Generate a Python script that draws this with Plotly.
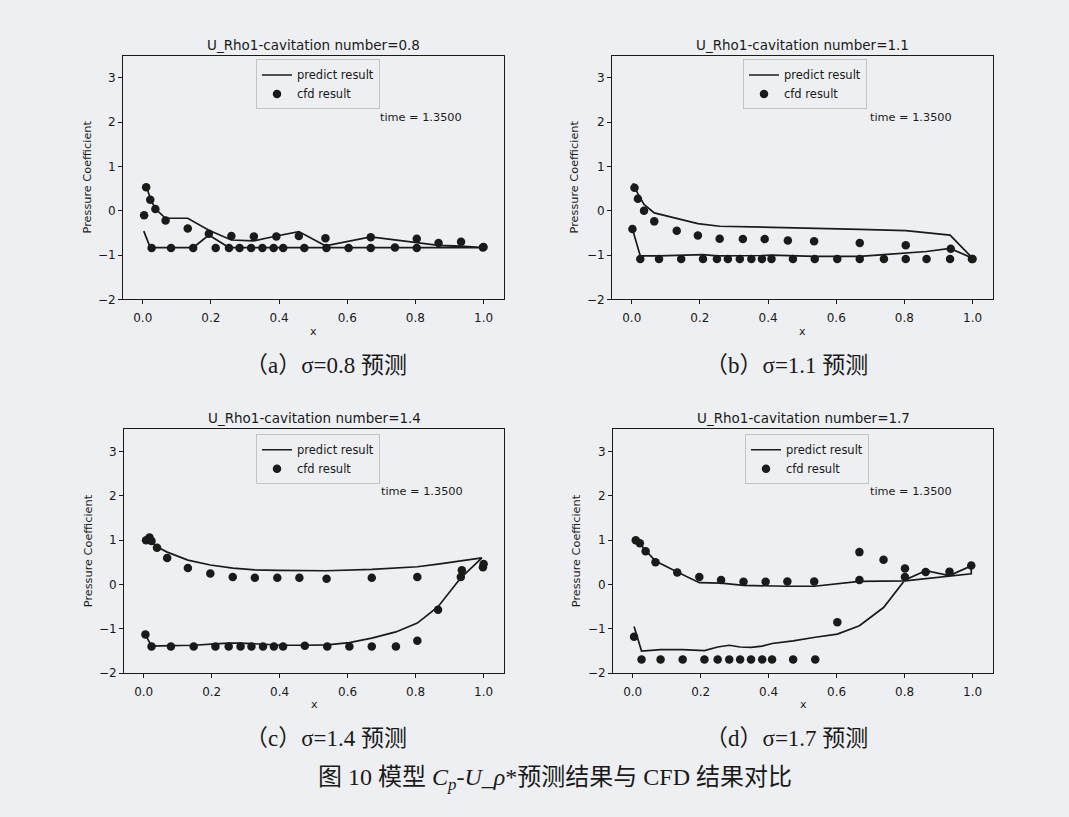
import plotly.graph_objects as go

# ---------------- data ----------------
titles = ["U_Rho1-cavitation number=0.8", "U_Rho1-cavitation number=1.1",
          "U_Rho1-cavitation number=1.4", "U_Rho1-cavitation number=1.7"]
captions = ["（a）σ=0.8 预测", "（b）σ=1.1 预测", "（c）σ=1.4 预测", "（d）σ=1.7 预测"]
x_ticks = [0.0, 0.2, 0.4, 0.6, 0.8, 1.0]
y_ticks = [-2, -1, 0, 1, 2, 3]

# (a) sigma = 0.8
cfd_x_a = [0.004, 0.010, 0.022, 0.037, 0.067, 0.132, 0.194, 0.260, 0.326, 0.392, 0.458, 0.536, 0.669, 0.804, 0.868, 0.934, 1.000,
           0.026, 0.083, 0.148, 0.214, 0.253, 0.284, 0.318, 0.351, 0.384, 0.412, 0.474, 0.539, 0.604, 0.669, 0.740, 0.804, 0.998]
cfd_y_a = [-0.10, 0.53, 0.25, 0.04, -0.22, -0.40, -0.52, -0.57, -0.58, -0.58, -0.57, -0.62, -0.60, -0.63, -0.73, -0.70, -0.82,
           -0.84, -0.84, -0.84, -0.84, -0.84, -0.84, -0.84, -0.84, -0.84, -0.84, -0.84, -0.84, -0.84, -0.84, -0.83, -0.84, -0.83]
pred_lx_a = [0.003, 0.022, 0.083, 0.148, 0.194, 0.253, 0.318, 0.384, 0.474, 0.539, 0.604, 0.669, 0.740, 0.804, 0.868, 0.934, 1.000]
pred_ly_a = [-0.46, -0.83, -0.83, -0.83, -0.55, -0.83, -0.83, -0.83, -0.83, -0.83, -0.83, -0.83, -0.83, -0.83, -0.83, -0.83, -0.83]
pred_ux_a = [1.000, 0.934, 0.868, 0.804, 0.669, 0.536, 0.458, 0.392, 0.326, 0.260, 0.194, 0.132, 0.067, 0.037, 0.022, 0.010]
pred_uy_a = [-0.83, -0.80, -0.78, -0.72, -0.59, -0.79, -0.47, -0.57, -0.68, -0.66, -0.44, -0.17, -0.17, 0.04, 0.28, 0.57]

# (b) sigma = 1.1
cfd_x_b = [0.002, 0.008, 0.018, 0.036, 0.066, 0.132, 0.194, 0.258, 0.326, 0.390, 0.458, 0.535, 0.669, 0.804, 0.936, 1.000,
           0.025, 0.080, 0.145, 0.209, 0.250, 0.282, 0.317, 0.351, 0.382, 0.410, 0.473, 0.537, 0.603, 0.669, 0.740, 0.804, 0.865, 0.934, 0.998]
cfd_y_b = [-0.41, 0.52, 0.27, 0.00, -0.24, -0.45, -0.56, -0.63, -0.64, -0.64, -0.67, -0.69, -0.73, -0.78, -0.86, -1.09,
           -1.09, -1.09, -1.09, -1.09, -1.09, -1.09, -1.09, -1.09, -1.09, -1.09, -1.09, -1.09, -1.09, -1.09, -1.09, -1.09, -1.09, -1.09, -1.09]
pred_lx_b = [0.002, 0.025, 0.080, 0.145, 0.209, 0.250, 0.317, 0.382, 0.410, 0.473, 0.537, 0.603, 0.669, 0.740, 0.804, 0.865, 0.934, 1.000]
pred_ly_b = [-0.41, -1.02, -1.02, -1.01, -0.99, -1.02, -1.02, -1.01, -1.00, -1.02, -1.03, -1.03, -1.03, -0.99, -0.96, -0.92, -0.85, -1.07]
pred_ux_b = [1.000, 0.934, 0.865, 0.804, 0.669, 0.537, 0.458, 0.390, 0.326, 0.258, 0.194, 0.132, 0.066, 0.036, 0.018, 0.004]
pred_uy_b = [-1.07, -0.55, -0.49, -0.45, -0.42, -0.40, -0.39, -0.38, -0.37, -0.35, -0.29, -0.18, -0.05, 0.14, 0.38, 0.62]

# (c) sigma = 1.4
cfd_x_c = [0.007, 0.017, 0.023, 0.039, 0.069, 0.130, 0.196, 0.262, 0.327, 0.393, 0.458, 0.538, 0.671, 0.805, 0.936, 1.000,
           0.005, 0.023, 0.080, 0.147, 0.211, 0.250, 0.285, 0.317, 0.351, 0.383, 0.410, 0.474, 0.540, 0.605, 0.671, 0.742, 0.805, 0.866, 0.933, 0.998]
cfd_y_c = [1.00, 1.06, 0.98, 0.83, 0.60, 0.37, 0.25, 0.17, 0.15, 0.15, 0.15, 0.13, 0.15, 0.17, 0.32, 0.46,
           -1.13, -1.40, -1.40, -1.40, -1.40, -1.40, -1.40, -1.40, -1.40, -1.40, -1.40, -1.38, -1.40, -1.40, -1.40, -1.40, -1.27, -0.57, 0.17, 0.39]
pred_lx_c = [0.005, 0.023, 0.080, 0.147, 0.211, 0.250, 0.285, 0.317, 0.351, 0.383, 0.410, 0.474, 0.540, 0.605, 0.671, 0.742, 0.805, 0.866, 0.933, 0.995]
pred_ly_c = [-1.13, -1.39, -1.38, -1.37, -1.34, -1.32, -1.32, -1.33, -1.35, -1.36, -1.37, -1.37, -1.36, -1.31, -1.21, -1.07, -0.87, -0.50, 0.15, 0.60]
pred_ux_c = [0.995, 0.936, 0.866, 0.805, 0.671, 0.538, 0.458, 0.393, 0.327, 0.262, 0.196, 0.130, 0.069, 0.039, 0.023, 0.010]
pred_uy_c = [0.60, 0.53, 0.46, 0.40, 0.34, 0.31, 0.31, 0.32, 0.33, 0.37, 0.44, 0.55, 0.73, 0.85, 0.97, 1.08]

# (d) sigma = 1.7
cfd_x_d = [0.009, 0.021, 0.038, 0.067, 0.131, 0.196, 0.260, 0.326, 0.391, 0.455, 0.534, 0.667, 0.667, 0.738, 0.801, 0.801, 0.862, 0.932, 0.996, 0.004, 0.602,
           0.026, 0.082, 0.147, 0.211, 0.250, 0.284, 0.316, 0.348, 0.381, 0.410, 0.472, 0.537]
cfd_y_d = [1.00, 0.93, 0.75, 0.50, 0.27, 0.17, 0.10, 0.06, 0.06, 0.07, 0.07, 0.10, 0.73, 0.56, 0.36, 0.17, 0.28, 0.29, 0.43, -1.18, -0.85,
           -1.69, -1.69, -1.69, -1.69, -1.69, -1.69, -1.69, -1.69, -1.69, -1.69, -1.69, -1.69]
pred_lx_d = [0.004, 0.026, 0.082, 0.147, 0.211, 0.250, 0.284, 0.316, 0.348, 0.381, 0.410, 0.472, 0.537, 0.602, 0.667, 0.738, 0.801, 0.862, 0.932, 0.996]
pred_ly_d = [-0.95, -1.50, -1.47, -1.47, -1.49, -1.41, -1.37, -1.41, -1.42, -1.39, -1.33, -1.27, -1.19, -1.12, -0.93, -0.52, 0.10, 0.31, 0.20, 0.42]
pred_ux_d = [0.996, 0.932, 0.862, 0.801, 0.667, 0.534, 0.455, 0.391, 0.326, 0.260, 0.196, 0.131, 0.067, 0.038, 0.021, 0.006]
pred_uy_d = [0.24, 0.19, 0.12, 0.08, 0.07, -0.04, -0.04, -0.03, -0.02, 0.03, 0.04, 0.28, 0.53, 0.77, 0.92, 1.05]

cases = [
    (cfd_x_a, cfd_y_a, pred_lx_a + pred_ux_a, pred_ly_a + pred_uy_a),
    (cfd_x_b, cfd_y_b, pred_lx_b + pred_ux_b, pred_ly_b + pred_uy_b),
    (cfd_x_c, cfd_y_c, pred_lx_c + pred_ux_c, pred_ly_c + pred_uy_c),
    (cfd_x_d, cfd_y_d, pred_lx_d + pred_ux_d, pred_ly_d + pred_uy_d),
]

# ---------------- layout geometry (pixels of a 1069 x 817 page) ----------------
W, H = 1069, 817
boxes = [(123, 504, 56, 302), (612, 993, 56, 302), (124, 504, 433, 679), (613, 993, 433, 679)]
legend_pos = [(256, 60), (743, 60), (256, 438), (745, 438)]
time_pos = [(421, 119), (911, 119), (422, 496), (911, 496)]
ylab_x = [87, 574, 88, 576]
cap_pos = [(326, 369), (786, 369), (326, 745), (786, 745)]

BG = "#edeff2"
INK = "#1a1a1a"
SANS = "DejaVu Sans"
SERIF = "Liberation Serif, Noto Sans CJK SC"

fig = go.Figure()
annotations = []
layout = dict(width=W, height=H, margin=dict(l=0, r=0, t=0, b=0),
              paper_bgcolor=BG, plot_bgcolor=BG, showlegend=True,
              font=dict(family=SANS, color=INK))

for i, (cx, cy, px, py) in enumerate(cases):
    n = "" if i == 0 else str(i + 1)
    leg = "legend" + n
    fig.add_trace(go.Scatter(x=px, y=py, mode="lines", name="predict result",
                             line=dict(color=INK, width=1.7), xaxis="x" + n, yaxis="y" + n,
                             legend=leg))
    fig.add_trace(go.Scatter(x=cx, y=cy, mode="markers", name="cfd result",
                             marker=dict(color=INK, size=8.5), xaxis="x" + n, yaxis="y" + n,
                             legend=leg))
    x0, x1, y0, y1 = boxes[i]
    common = dict(showline=True, mirror=True, linecolor=INK, linewidth=1, showgrid=False,
                  zeroline=False, ticks="outside", ticklen=4, tickcolor=INK, tickwidth=1,
                  tickfont=dict(family=SANS, size=12, color=INK))
    layout["xaxis" + n] = dict(domain=[x0 / W, x1 / W], range=[-0.058, 1.06], anchor="y" + n,
                               tickvals=x_ticks, ticktext=[f"{v:.1f}" for v in x_ticks],
                               ticklabelstandoff=3, **common)
    layout["yaxis" + n] = dict(domain=[1 - y1 / H, 1 - y0 / H], range=[-2, 3.5], anchor="x" + n,
                               tickvals=y_ticks, **common)
    lx, ly = legend_pos[i]
    layout[leg] = dict(x=lx / W, y=1 - ly / H, xanchor="left", yanchor="top",
                       bgcolor=BG, bordercolor="#c4c4c4", borderwidth=1,
                       font=dict(family=SANS, size=11.5, color=INK), tracegroupgap=0,
                       itemwidth=30)
    xc = (x0 + x1) / 2
    annotations.append(dict(text=titles[i], x=xc / W, y=1 - (y0 - 11) / H, xref="paper", yref="paper",
                            showarrow=False, font=dict(family=SANS, size=13.5, color=INK),
                            xanchor="center", yanchor="middle"))
    tx, ty = time_pos[i]
    annotations.append(dict(text="time = 1.3500", x=tx / W, y=1 - ty / H, xref="paper", yref="paper",
                            showarrow=False, font=dict(family=SANS, size=11.3, color=INK),
                            xanchor="center", yanchor="middle"))
    annotations.append(dict(text="x", x=xc / W, y=1 - (y1 + 32) / H, xref="paper", yref="paper",
                            showarrow=False, font=dict(family=SANS, size=11, color=INK),
                            xanchor="center", yanchor="middle"))
    annotations.append(dict(text="Pressure Coefficient", x=ylab_x[i] / W, y=1 - (y0 + y1) / 2 / H,
                            xref="paper", yref="paper", textangle=-90, showarrow=False,
                            font=dict(family=SANS, size=11.3, color=INK),
                            xanchor="center", yanchor="middle"))
    cxp, cyp = cap_pos[i]
    annotations.append(dict(text=captions[i], x=cxp / W, y=1 - cyp / H, xref="paper", yref="paper",
                            showarrow=False, font=dict(family=SERIF, size=23, color=INK),
                            xanchor="center", yanchor="middle"))

annotations.append(dict(text="图 10 模型 <i>C</i><sub><i>p</i></sub>-<i>U</i>_<i>ρ</i>*预测结果与 CFD 结果对比",
                        x=555 / W, y=1 - 786 / H, xref="paper", yref="paper", showarrow=False,
                        font=dict(family=SERIF, size=24, color=INK), xanchor="center", yanchor="middle"))

layout["annotations"] = annotations
fig.update_layout(**layout)
fig.write_html("out.html", config={"displayModeBar": False},
               post_script="document.body.style.margin='0';document.body.style.background='" + BG + "';")
